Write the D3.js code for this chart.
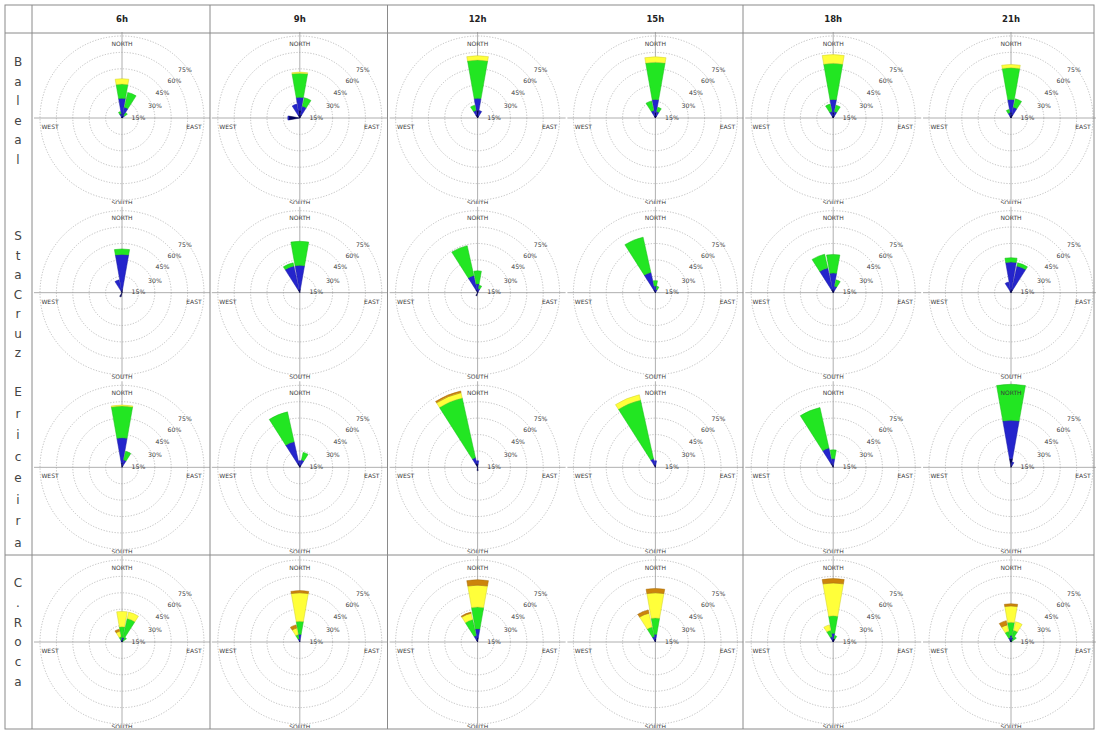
<!DOCTYPE html>
<html>
<head>
<meta charset="utf-8">
<script src="https://cdn.jsdelivr.net/npm/d3@7"></script>
<style>
  body { margin: 0; background: #fff; }
  svg { display: block; }
</style>
</head>
<body>
<svg id="chart" width="1096" height="731"></svg>
<script>
// Hours (columns) and stations (rows)
const hours = ["6h", "9h", "12h", "15h", "18h", "21h"];
const stations = ["Baleal", "StaCruz", "Ericeira", "C.Roca"];

// 16 compass sectors, clockwise from north
const directions = ["N", "NNE", "NE", "ENE", "E", "ESE", "SE", "SSE",
                    "S", "SSW", "SW", "WSW", "W", "WNW", "NW", "NNW"];

// Wind speed classes, slowest first
const speedClasses = ["class 1", "class 2", "class 3", "class 4", "class 5"];
const classColors = ["#00005c", "#2424cc", "#22e622", "#ffff3a", "#cc840c"];

// Frequency rings (%)
const ringTicks = [15, 30, 45, 60, 75];

// Each rose: [direction, class1, class2, class3, class4, class5] in % of time
const balealRoses = [
  [["N", 4, 14, 13, 5, 0], ["NNE", 2, 8, 14, 0, 0], ["NE", 1, 2, 3, 0, 0], ["NNW", 1, 3, 2, 0, 0]],
  [["N", 7, 12, 22, 1, 0], ["NNE", 3, 8, 8, 0, 0], ["NNW", 3, 10, 0, 0, 0], ["W", 10, 1, 0, 0, 0]],
  [["N", 7, 11, 35, 4, 0], ["NNW", 3, 4, 5, 0, 0], ["NNE", 2, 5, 0, 0, 0]],
  [["N", 5, 12, 34, 5, 0], ["NNW", 2, 5, 9, 0, 0], ["NNE", 2, 4, 4, 0, 0]],
  [["N", 5, 12, 33, 8, 0], ["NNW", 2, 4, 7, 0, 0], ["NNE", 2, 4, 6, 0, 0]],
  [["N", 5, 12, 29, 3, 0], ["NNE", 3, 7, 8, 0, 0], ["NNW", 2, 3, 3, 0, 0]]
];

const staCruzRoses = [
  [["N", 3, 32, 5, 0, 0], ["NNW", 2, 10, 0, 0, 0], ["SSW", 4, 0, 0, 0, 0]],
  [["N", 3, 22, 22, 0, 0], ["NNW", 3, 22, 3, 0, 0]],
  [["NNW", 3, 13, 28, 0, 0], ["N", 2, 6, 12, 0, 0], ["NNE", 1, 3, 3, 0, 0], ["SSW", 3, 0, 0, 0, 0]],
  [["NNW", 3, 16, 33, 0, 0], ["N", 2, 4, 5, 0, 0], ["NNE", 1, 2, 3, 0, 0]],
  [["N", 3, 15, 17, 0, 0], ["NNW", 3, 20, 13, 0, 0], ["NNE", 2, 4, 6, 0, 0]],
  [["N", 3, 25, 4, 0, 0], ["NNE", 3, 22, 3, 0, 0], ["NNW", 2, 8, 0, 0, 0]]
];

const ericeiraRoses = [
  [["N", 4, 23, 29, 1, 0], ["NNE", 2, 5, 8, 0, 0]],
  [["NNW", 4, 20, 28, 0, 0], ["NNE", 2, 5, 7, 0, 0], ["N", 2, 4, 0, 0, 0]],
  [["NNW", 4, 5, 56, 5, 1.5], ["N", 3, 3, 0, 0, 0], ["S", 3, 0, 0, 0, 0]],
  [["NNW", 3, 5, 55, 5, 0], ["N", 2, 4, 0, 0, 0]],
  [["NNW", 4, 14, 38, 0, 0], ["N", 2, 6, 8, 0, 0]],
  [["N", 8, 35, 33, 0, 0], ["NNE", 2, 3, 0, 0, 0]]
];

const cRocaRoses = [
  [["N", 2, 2, 10, 14, 0], ["NNE", 2, 2, 18, 6, 0], ["NNW", 1, 1, 3, 5, 2], ["NE", 1, 0, 4, 0, 0]],
  [["N", 2, 5, 12, 26, 2], ["NNW", 1, 2, 4, 6, 3]],
  [["N", 4, 8, 20, 20, 5], ["NNW", 2, 4, 15, 6, 1]],
  [["N", 3, 4, 15, 23, 4], ["NNW", 2, 3, 9, 13, 3]],
  [["N", 3, 5, 16, 30, 4], ["NNW", 2, 3, 6, 5, 0], ["NNE", 3, 0, 3, 0, 0]],
  [["N", 3, 3, 12, 15, 2], ["NNW", 2, 2, 6, 6, 4], ["NNE", 2, 2, 7, 8, 0], ["NE", 1, 0, 5, 0, 0]]
];

const rosesByStation = [balealRoses, staCruzRoses, ericeiraRoses, cRocaRoses];

// ---------------------------------------------------------------------------
const svg = d3.select("#chart");

const tableLeft = 5, tableRight = 1094, tableTop = 5, headerBottom = 33, tableBottom = 729;
const labelColRight = 32;

const xCenter = d3.scalePoint().domain(hours).range([122, 1011]);
const yCenter = d3.scalePoint().domain(stations).range([118, 642]);

const r = d3.scaleLinear().domain([0, 75]).range([0, 82]);
const sectorAngle = d3.scalePoint().domain(directions).range([0, 2 * Math.PI * 15 / 16]);
const halfWidth = 10 * Math.PI / 180;

const arc = d3.arc();
const defs = svg.append("defs");
const smallFont = "DejaVu Sans, sans-serif";

stations.forEach((st, si) => {
  const cy = yCenter(st);
  hours.forEach((h, hi) => {
    const cx = xCenter(h);
    const clipId = `clip-${si}-${hi}`;
    defs.append("clipPath").attr("id", clipId)
      .append("rect")
      .attr("x", cx - 88).attr("y", cy - 86)
      .attr("width", 176).attr("height", 172);

    const g = svg.append("g").attr("clip-path", `url(#${clipId})`)
      .append("g").attr("transform", `translate(${cx},${cy})`);

    // rings
    g.selectAll("circle.ring").data(ringTicks).join("circle")
      .attr("class", "ring")
      .attr("r", d => r(d))
      .attr("fill", "none")
      .attr("stroke", "#adadad")
      .attr("stroke-width", 0.8)
      .attr("stroke-dasharray", "1.2,1.6");

    // cross axes
    g.append("line").attr("x1", -92).attr("x2", 92).attr("y1", 0).attr("y2", 0)
      .attr("stroke", "#9a9a9a").attr("stroke-width", 0.8);
    g.append("line").attr("y1", -92).attr("y2", 92).attr("x1", 0).attr("x2", 0)
      .attr("stroke", "#9a9a9a").attr("stroke-width", 0.8);

    // stacked wedges
    const rows = rosesByStation[si][hi];
    const segs = [];
    rows.forEach(row => {
      const dir = row[0];
      let cum = 0;
      speedClasses.forEach((c, ci) => {
        const v = row[ci + 1];
        if (v > 0) {
          segs.push({ dir, ci, inner: cum, outer: cum + v });
          cum += v;
        }
      });
    });
    g.selectAll("path.seg").data(segs).join("path")
      .attr("class", "seg")
      .attr("d", d => arc({
        innerRadius: r(d.inner), outerRadius: r(d.outer),
        startAngle: sectorAngle(d.dir) - halfWidth,
        endAngle: sectorAngle(d.dir) + halfWidth
      }))
      .attr("fill", d => classColors[d.ci])
      .attr("stroke", d => d3.color(classColors[d.ci]).darker(0.6))
      .attr("stroke-width", 0.5);

    // percent labels
    const tickPos = [[16.5, -1], [33, -12.5], [40.5, -26], [52.5, -37.5], [63, -48.5]];
    g.selectAll("text.tick").data(ringTicks).join("text")
      .attr("class", "tick")
      .attr("x", (d, i) => tickPos[i][0])
      .attr("y", (d, i) => tickPos[i][1])
      .attr("text-anchor", "middle")
      .attr("dominant-baseline", "central")
      .attr("font-family", smallFont)
      .attr("font-size", 6.2)
      .attr("fill", "#3a3a3a")
      .text(d => d + "%");

    // compass labels
    const comp = [["NORTH", 0, -75], ["EAST", 72, 8.5], ["SOUTH", 0, 84], ["WEST", -72, 8.5]];
    g.selectAll("text.comp").data(comp).join("text")
      .attr("class", "comp")
      .attr("x", d => d[1]).attr("y", d => d[2])
      .attr("text-anchor", "middle")
      .attr("dominant-baseline", "central")
      .attr("font-family", smallFont)
      .attr("font-size", 6)
      .attr("fill", "#3a3a3a")
      .text(d => d[0]);
  });
});

// ---------------------------------------------------------------------------
// table grid
const grid = svg.append("g").attr("stroke", "#8a8a8a").attr("stroke-width", 1).attr("fill", "none");
grid.append("rect").attr("x", tableLeft).attr("y", tableTop)
  .attr("width", tableRight - tableLeft).attr("height", tableBottom - tableTop);
grid.append("line").attr("x1", tableLeft).attr("x2", tableRight).attr("y1", headerBottom).attr("y2", headerBottom);
grid.append("line").attr("x1", tableLeft).attr("x2", tableRight).attr("y1", 555).attr("y2", 555);
[labelColRight, 210, 387.5, 743].forEach(x => {
  grid.append("line").attr("x1", x).attr("x2", x).attr("y1", tableTop).attr("y2", tableBottom);
});

// hour headers
svg.selectAll("text.hour").data(hours).join("text")
  .attr("class", "hour")
  .attr("x", d => xCenter(d)).attr("y", 19)
  .attr("text-anchor", "middle").attr("dominant-baseline", "central")
  .attr("font-family", smallFont)
  .attr("font-size", 8.5).attr("font-weight", "bold").attr("fill", "#222")
  .text(d => d);

// station names, one letter per line
const labelStarts = [62, 236, 392, 583];
const letterSteps = [19.5, 19.5, 21.5, 19.8];
stations.forEach((st, si) => {
  const letters = st.split("");
  svg.append("g").selectAll("text").data(letters).join("text")
    .attr("x", 18)
    .attr("y", (d, i) => labelStarts[si] + i * letterSteps[si])
    .attr("text-anchor", "middle").attr("dominant-baseline", "central")
    .attr("font-family", smallFont)
    .attr("font-size", 12).attr("fill", "#444")
    .text(d => d);
});
</script>
</body>
</html>
